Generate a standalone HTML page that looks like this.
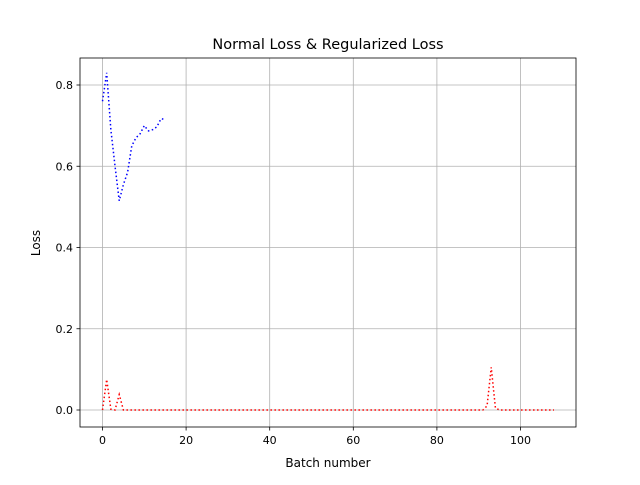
<!DOCTYPE html>
<html><head><meta charset="utf-8"><style>
body{margin:0;background:#fff;font-family:"Liberation Sans","DejaVu Sans",sans-serif}
svg text{font-family:"DejaVu Sans","Liberation Sans",sans-serif;fill:#000}
</style></head><body>
<svg id="chart" width="640" height="480">
<rect width="640" height="480" fill="#fff"/>
<text x="328" y="49" font-size="14.5" text-anchor="middle">Normal Loss &amp; Regularized Loss</text>
<g id="grid"></g><g id="series"></g><g id="axes"></g>
<text x="328" y="467" font-size="12" text-anchor="middle">Batch number</text>
<text transform="translate(40,243) rotate(-90)" font-size="12" text-anchor="middle">Loss</text>
</svg>
<script>
const blueLoss=[0.76,0.83,0.69,0.60,0.515,0.555,0.585,0.65,0.67,0.68,0.70,0.687,0.69,0.697,0.717,0.715];
const redLoss=[0,0.075,0.002,0,0.038,0,0,0,0,0];
const redSpikeX=[92,93,94];
const redSpikeY=[0.01,0.105,0.005];
const xTicks=[0,20,40,60,80,100];
const yTicks=[0.0,0.2,0.4,0.6,0.8];
const x0=80,x1=576,yT=58,yB=427;
const xs=v=>102.5+v*4.18;
const ys=v=>410-v*406.25;
const NS='http://www.w3.org/2000/svg';
function mk(t,a,p){const e=document.createElementNS(NS,t);for(const k in a)e.setAttribute(k,a[k]);p.appendChild(e);return e;}
const grid=document.getElementById('grid'),axes=document.getElementById('axes'),ser=document.getElementById('series');
xTicks.forEach(v=>{const X=xs(v);
const g=mk('line',{x1:X,x2:X,y1:yT,y2:yB,stroke:'#b0b0b0','stroke-width':0.8},grid);

mk('line',{x1:X,x2:X,y1:yB,y2:yB+3.5,stroke:'#000','stroke-width':0.8},axes);
const t=mk('text',{x:X,y:yB+17,'font-size':11,'text-anchor':'middle'},axes);t.textContent=v;
});
yTicks.forEach(v=>{const Y=ys(v);
const g=mk('line',{x1:x0,x2:x1,y1:Y,y2:Y,stroke:'#b0b0b0','stroke-width':0.8},grid);

mk('line',{x1:x0-3.5,x2:x0,y1:Y,y2:Y,stroke:'#000','stroke-width':0.8},axes);
const t=mk('text',{x:x0-7,y:Y+4,'font-size':11,'text-anchor':'end'},axes);t.textContent=v.toFixed(1);
});
const fr=mk('rect',{x:x0,y:yT,width:x1-x0,height:yB-yT,fill:'none',stroke:'#000','stroke-width':0.8},axes);

const red=[];for(let i=0;i<=108;i++){let v=i<redLoss.length?redLoss[i]:0;const k=redSpikeX.indexOf(i);if(k>=0)v=redSpikeY[k];red.push(v);}
function line(arr,color,name){const p=mk('polyline',{points:arr.map((v,i)=>xs(i)+','+ys(v)).join(' '),fill:'none',stroke:color,'stroke-width':1.5,'stroke-dasharray':'1.5 2.5'},ser);
}
line(red,'#ff0000','regularized-loss-line');
line(blueLoss,'#0000ff','normal-loss-line');
</script></body></html>
